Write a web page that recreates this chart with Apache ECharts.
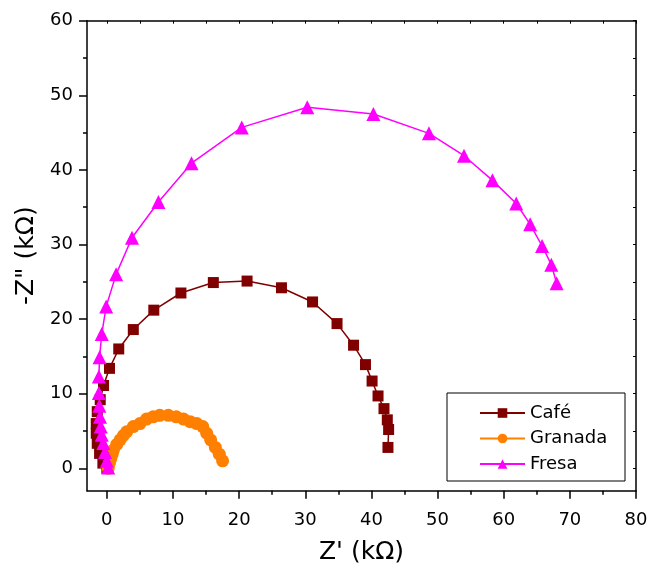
<!DOCTYPE html>
<html><head><meta charset="utf-8">
<script src="https://cdn.jsdelivr.net/npm/echarts@6/dist/echarts.min.js"></script>
<style>html,body{margin:0;padding:0;background:#fff}#c{width:647px;height:568px}</style>
</head><body><div id="c"></div>
<script>
const seriesNames = ['Café', 'Granada', 'Fresa'];
const cafe = [[0.0,0.0],[-0.6,0.7],[-1.1,2.0],[-1.45,3.35],[-1.6,4.7],[-1.6,6.0],[-1.45,7.6],[-1.0,9.2],[-0.5,11.1],[0.4,13.4],[1.8,16.0],[4.0,18.6],[7.1,21.2],[11.2,23.5],[16.1,24.9],[21.2,25.1],[26.4,24.2],[31.1,22.3],[34.8,19.4],[37.3,16.5],[39.1,13.9],[40.1,11.7],[41.0,9.7],[41.9,8.0],[42.4,6.5],[42.6,5.2],[42.5,2.8]];
const granada = [[0.2,0.0],[0.4,0.7],[0.6,1.3],[0.8,1.9],[1.0,2.45],[1.5,3.2],[2.0,3.8],[2.5,4.4],[3.0,4.9],[4.0,5.6],[5.0,6.0],[6.0,6.6],[7.0,6.9],[8.0,7.1],[9.3,7.1],[10.5,6.9],[11.6,6.6],[12.6,6.25],[13.6,6.0],[14.5,5.6],[15.1,4.7],[15.7,3.8],[16.4,2.8],[17.0,1.9],[17.5,1.0]];
const fresa = [[0.2,0.1],[0.0,1.0],[-0.27,2.2],[-0.53,3.4],[-0.77,4.5],[-0.92,5.6],[-1.03,6.9],[-1.13,8.4],[-1.2,10.1],[-1.2,12.3],[-1.1,14.9],[-0.77,18.0],[-0.1,21.7],[1.4,26.0],[3.8,30.9],[7.8,35.7],[12.8,40.9],[20.4,45.7],[30.3,48.4],[40.3,47.5],[48.7,44.9],[54.0,41.9],[58.3,38.6],[61.9,35.5],[64.0,32.7],[65.8,29.8],[67.2,27.3],[68.0,24.8]];
const xMajorTicks = [0, 10, 20, 30, 40, 50, 60, 70, 80];
const xMinorTicks = [5, 15, 25, 35, 45, 55, 65, 75];
const xAllTicks = [0, 5, 10, 15, 20, 25, 30, 35, 40, 45, 50, 55, 60, 65, 70, 75, 80];
const yMajorTicks = [0, 10, 20, 30, 40, 50, 60];
const yMinorTicks = [5, 15, 25, 35, 45, 55];
const yAllTicks = [0, 5, 10, 15, 20, 25, 30, 35, 40, 45, 50, 55, 60];
const xAxisTitle = "Z' (kΩ)";
const yAxisTitle = '-Z" (kΩ)';

const FONT = '"DejaVu Sans", "Liberation Sans", Arial, sans-serif';
const BLACK = '#000';
const XMIN = -3, XMAX = 80, YMIN = -3, YMAX = 60;

function baseAxis(pos, min, max) {
  return {
    type: 'value', position: pos, min: min, max: max,
    splitLine: { show: false }, minorTick: { show: false },
    axisLine: { show: true, onZero: false, lineStyle: { color: BLACK, width: 1.5 } }
  };
}

const chart = echarts.init(document.getElementById('c'), null, { renderer: 'canvas' });
chart.setOption({
  animation: false,
  backgroundColor: '#fff',
  grid: { left: 87, top: 20.7, right: 11, bottom: 77.3, outerBoundsMode: 'none', containLabel: false },
  xAxis: [
    Object.assign(baseAxis('bottom', XMIN, XMAX), {
      axisTick: { show: true, customValues: xMajorTicks, length: 8, lineStyle: { color: BLACK, width: 1.5 } },
      axisLabel: { customValues: xMajorTicks, color: BLACK, fontSize: 18, fontFamily: FONT, margin: 21 },
      name: xAxisTitle, nameLocation: 'middle', nameGap: 49,
      nameTextStyle: { color: BLACK, fontSize: 25, fontFamily: FONT }
    }),
    Object.assign(baseAxis('bottom', XMIN, XMAX), {
      axisLine: { show: false, onZero: false },
      axisTick: { show: true, customValues: xMinorTicks, length: 4, lineStyle: { color: BLACK, width: 1.5 } },
      axisLabel: { show: false, customValues: xMinorTicks }
    }),
    Object.assign(baseAxis('top', XMIN, XMAX), {
      axisTick: { show: true, inside: true, customValues: xAllTicks, length: 3, lineStyle: { color: BLACK, width: 1 } },
      axisLabel: { show: false, customValues: xAllTicks }
    })
  ],
  yAxis: [
    Object.assign(baseAxis('left', YMIN, YMAX), {
      axisTick: { show: true, customValues: yMajorTicks, length: 8, lineStyle: { color: BLACK, width: 1.5 } },
      axisLabel: { customValues: yMajorTicks, color: BLACK, fontSize: 18, fontFamily: FONT, margin: 14 },
      name: yAxisTitle, nameLocation: 'middle', nameGap: 45, nameRotate: 90,
      nameTextStyle: { color: BLACK, fontSize: 25, fontFamily: FONT }
    }),
    Object.assign(baseAxis('left', YMIN, YMAX), {
      axisLine: { show: false, onZero: false },
      axisTick: { show: true, customValues: yMinorTicks, length: 4, lineStyle: { color: BLACK, width: 1.5 } },
      axisLabel: { show: false, customValues: yMinorTicks }
    }),
    Object.assign(baseAxis('right', YMIN, YMAX), {
      axisTick: { show: true, inside: true, customValues: yAllTicks, length: 3, lineStyle: { color: BLACK, width: 1 } },
      axisLabel: { show: false, customValues: yAllTicks }
    })
  ],
  graphic: [{
    type: 'rect', z: 3,
    shape: { x: 447, y: 393, width: 178, height: 88 },
    style: { fill: '#fff', stroke: BLACK, lineWidth: 1 }
  }],
  legend: {
    z: 5, orient: 'vertical', left: 474, top: 399,
    itemWidth: 45, itemHeight: 12, itemGap: 7.5,
    data: seriesNames,
    textStyle: { color: BLACK, fontSize: 18, lineHeight: 16, fontFamily: FONT }
  },
  series: [
    { name: seriesNames[0], type: 'line', data: cafe, symbol: 'rect', symbolSize: 11,
      itemStyle: { color: '#800000' }, lineStyle: { color: '#800000', width: 1.5 }, z: 2 },
    { name: seriesNames[1], type: 'line', data: granada, symbol: 'circle', symbolSize: 13,
      itemStyle: { color: '#FF8000' }, lineStyle: { color: '#FF8000', width: 1.5 }, z: 2 },
    { name: seriesNames[2], type: 'line', data: fresa, symbol: 'triangle', symbolSize: 14,
      itemStyle: { color: '#FF00FF' }, lineStyle: { color: '#FF00FF', width: 1.5 }, z: 2 }
  ]
});
</script></body></html>
